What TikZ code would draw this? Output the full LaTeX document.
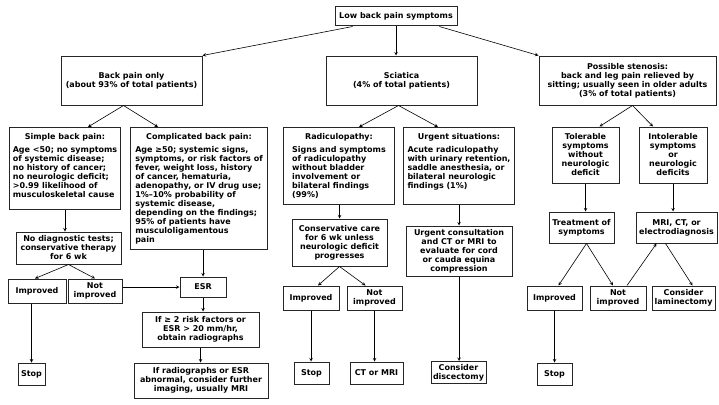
\documentclass[tikz,border=0pt]{standalone}
\usepackage{fontspec}
\setmainfont{DejaVu Sans}
\newcommand{\fs}{\bfseries\fontsize{8}{9}\selectfont}
\newcommand{\topbox}[4]{\parbox[c][#2pt][t]{#1pt}{\centering #3\\[4pt]\begin{tabular}{@{}l@{}}#4\end{tabular}}}
\begin{document}
\begin{tikzpicture}[x=1pt, y=-1pt, >=stealth,
  box/.style={draw=black!85, line width=1pt, inner sep=2pt, align=center, font=\fs},
  tbox/.style={box, anchor=north west, inner xsep=3pt, inner ysep=6pt},
  wh/.style 2 args={minimum width=#1, minimum height=#2},
  every path/.style={line width=0.6pt}]
\useasboundingbox (0,0) rectangle (719,404);

\node[box, wh={122}{19}] (top) at (396,16.5) {Low back pain symptoms};
\node[box, wh={141}{49}] (bpo) at (131.5,80.5) {Back pain only\\(about 93\% of total patients)};
\node[box, wh={151}{49}] (sci) at (401.5,80.5) {Sciatica\\(4\% of total patients)};
\node[box, wh={177}{49}] (sten) at (627.5,80.5) {Possible stenosis:\\back and leg pain relieved by\\sitting; usually seen in older adults\\(3\% of total patients)};

\node[tbox] (simple) at (9,127) {\topbox{105}{70}{Simple back pain:}{Age <50; no symptoms\\of systemic disease;\\no history of cancer;\\no neurologic deficit;\\>0.99 likelihood of\\musculoskeletal cause}};
\node[tbox] (compl) at (130,127) {\topbox{131}{110}{Complicated back pain:}{Age ≥50; systemic signs,\\symptoms, or risk factors of\\fever, weight loss, history\\of cancer, hematuria,\\adenopathy, or IV drug use;\\1\%–10\% probability of\\systemic disease,\\depending on the findings;\\95\% of patients have\\musculoligamentous\\pain}};
\node[tbox] (radic) at (283,127) {\topbox{105}{65}{Radiculopathy:}{Signs and symptoms\\of radiculopathy\\without bladder\\involvement or\\bilateral findings\\(99\%)}};
\node[tbox] (urgent) at (403,127) {\topbox{105}{65}{Urgent situations:}{Acute radiculopathy\\with urinary retention,\\saddle anesthesia, or\\bilateral neurologic\\findings (1\%)}};
\node[box, wh={67}{56}] (toler) at (585.5,155) {Tolerable\\symptoms\\without\\neurologic\\deficit};
\node[box, wh={68}{56}] (intol) at (673,155) {Intolerable\\symptoms\\or\\neurologic\\deficits};

\node[box, wh={105}{32}] (nodiag) at (68.5,248) {No diagnostic tests;\\conservative therapy\\for 6 wk};
\node[box, wh={95}{47}] (cons) at (339.5,242.5) {Conservative care\\for 6 wk unless\\neurologic deficit\\progresses};
\node[box, wh={106}{50}] (urgcons) at (459,251) {Urgent consultation\\and CT or MRI to\\evaluate for cord\\or cauda equina\\compression};
\node[box, wh={65}{31}] (treat) at (581.5,227.5) {Treatment of\\symptoms};
\node[box, wh={81}{31}] (mri) at (676.5,227.5) {MRI, CT, or\\electrodiagnosis};

\node[box, wh={58}{24}] (impA) at (37,291) {Improved};
\node[box, wh={54}{24}] (nimpA) at (95,291) {Not\\improved};
\node[box, wh={46}{20}] (esr) at (203,287) {ESR};
\node[box, wh={117}{35}] (risk) at (200.5,329.5) {If ≥ 2 risk factors or\\ESR > 20 mm/hr,\\obtain radiographs};
\node[box, wh={134}{35}] (radio) at (201,380.5) {If radiographs or ESR\\abnormal, consider further\\imaging, usually MRI};
\node[box, wh={27}{22}] (stopA) at (31.5,374) {Stop};
\node[box, wh={56}{24}] (impB) at (311,298) {Improved};
\node[box, wh={55}{24}] (nimpB) at (374.5,298) {Not\\improved};
\node[box, wh={35}{22}] (stopB) at (311.5,373) {Stop};
\node[box, wh={53}{22}] (ctmri) at (376.5,373) {CT or MRI};
\node[box, wh={55}{22}] (disc) at (458.5,372.5) {Consider\\discectomy};
\node[box, wh={55}{24}] (impC) at (554.5,298) {Improved};
\node[box, wh={56}{24}] (nimpC) at (618,298) {Not\\improved};
\node[box, wh={63}{24}] (lamin) at (683.5,298) {Consider\\laminectomy};
\node[box, wh={35}{22}] (stopC) at (554.5,374) {Stop};

\draw[->] (top.193) -- (bpo.north east);
\draw[->] (top.south) -- (top.south |- sci.north);
\draw[->] (top.347) -- (sten.north west);

\draw[->] ([xshift=-8]bpo.south) -- ([xshift=23]simple.north);
\draw[->] ([xshift=-8]bpo.south) -- ([xshift=-41]compl.north);
\draw[->] ([xshift=-3]sci.south) -- ([xshift=20]radic.north);
\draw[->] ([xshift=-3]sci.south) -- ([xshift=-21]urgent.north);
\draw[->] ([xshift=5]sten.south) -- ([xshift=14]toler.north);
\draw[->] ([xshift=5]sten.south) -- ([xshift=-20]intol.north);

\draw[->] (simple.south) -- (simple.south |- nodiag.north);
\draw[->] (nodiag.south) -- ([xshift=-2]impA.north);
\draw[->] (nodiag.south) -- (nimpA.north);
\draw[->] (nimpA.east |- esr.west) -- (esr.west);
\draw[->] (compl.south -| esr.north) -- (esr.north);
\draw[->] (esr.south) -- (esr.south |- risk.north);
\draw[->] (risk.south) -- (risk.south |- radio.north);
\draw[->] (impA.south -| stopA.north) -- (stopA.north);

\draw[->] (radic.south -| cons.north) -- (cons.north);
\draw[->] (urgent.south) -- (urgent.south |- urgcons.north);
\draw[->] (cons.south) -- ([xshift=7]impB.north);
\draw[->] (cons.south) -- ([xshift=-9]nimpB.north);
\draw[->] (impB.south) -- (impB.south |- stopB.north);
\draw[->] (nimpB.south) -- (nimpB.south |- ctmri.north);
\draw[->] (urgcons.south) -- (urgcons.south |- disc.north);

\draw[->] (toler.south) -- (toler.south |- treat.north);
\draw[->] (intol.south) -- (intol.south |- mri.north);
\draw[->] ([xshift=5]treat.south) -- ([xshift=4]impC.north);
\draw[->] ([xshift=5]treat.south) -- ([xshift=-5]nimpC.north);
\draw[->] ([xshift=9]nimpC.north) -- ([xshift=-20]mri.south);
\draw[->] ([xshift=-11]mri.south) -- ([xshift=9]lamin.north);
\draw[->] (impC.south) -- (impC.south |- stopC.north);

\end{tikzpicture}
\end{document}
